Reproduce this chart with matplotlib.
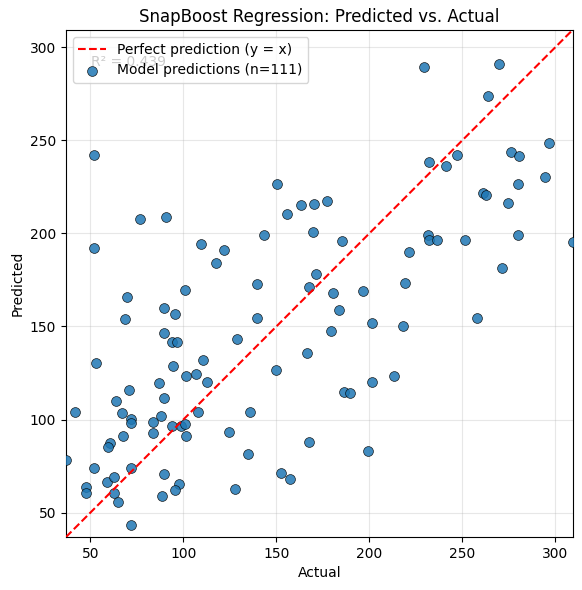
import matplotlib
matplotlib.use("Agg")
import matplotlib.pyplot as plt
import numpy as np

# Data
actual = [51.9, 51.9, 76.5, 90.5, 109.6, 121.6, 117.5, 150.3, 155.9, 163.2,
          170.2, 169.9, 171.5, 139.7, 167.6, 229.6, 269.5, 263.6, 296.3, 276.3,
          280.3, 247.3, 232.3, 241.3, 294.3, 279.7, 261.3, 262.7, 274.3, 177.4,
          185.5, 231.6, 232.3, 236.5, 251.6, 280.1, 309.2, 221.4, 271.5, 219.4,
          100.8, 69.7, 89.5, 68.6, 95.6, 139.7, 89.5, 93.9, 96.7, 128.9,
          166.5, 53.0, 110.6, 94.5, 101.5, 106.9, 149.9, 112.8, 70.8, 87.0,
          89.5, 63.7, 41.7, 67.2, 72.0, 72.0, 88.0, 107.9, 135.9, 83.7,
          93.8, 98.5, 100.9, 83.7, 101.6, 124.6, 67.6, 167.7, 60.5, 59.7,
          36.9, 134.9, 51.9, 71.8, 58.9, 62.8, 89.5, 152.5, 157.3, 47.6,
          47.6, 62.8, 64.8, 97.7, 95.5, 88.7, 127.9, 71.8, 180.6, 196.8,
          183.8, 201.6, 218.2, 257.6, 179.4, 213.5, 201.6, 186.4, 189.8, 199.5,
          143.5]
predicted = [241.9, 192.1, 207.7, 208.6, 194.2, 190.9, 184.0, 226.3, 210.2, 215.2,
             215.6, 200.7, 177.9, 172.6, 171.1, 289.2, 290.8, 273.6, 248.5, 243.7,
             241.4, 242.1, 238.3, 236.0, 230.1, 226.3, 221.7, 220.4, 216.1, 217.2,
             195.9, 199.1, 196.4, 196.4, 196.4, 199.1, 195.2, 189.9, 181.3, 173.1,
             169.7, 165.7, 159.7, 153.8, 156.6, 154.3, 146.4, 141.9, 141.6, 143.2,
             135.6, 130.3, 131.9, 128.5, 123.4, 124.2, 126.5, 119.9, 116.0, 119.4,
             111.4, 109.7, 103.9, 103.4, 100.2, 98.4, 101.7, 103.9, 103.8, 98.9,
             96.4, 96.4, 97.4, 93.0, 91.4, 93.1, 90.9, 88.2, 87.3, 85.1,
             78.5, 81.3, 74.2, 74.2, 66.7, 69.4, 70.5, 71.5, 68.3, 64.0,
             60.8, 60.8, 55.9, 65.6, 62.1, 59.1, 62.5, 43.1, 167.7, 168.9,
             159.0, 151.6, 150.5, 154.8, 147.3, 123.3, 119.9, 115.0, 114.5, 83.3,
             198.9]
r2_value = 0.439
ticks = [50, 100, 150, 200, 250, 300]

actual = np.array(actual)
predicted = np.array(predicted)
lo = min(actual.min(), predicted.min())
hi = max(actual.max(), predicted.max())

fig = plt.figure(figsize=(5.82, 5.90), dpi=100)
ax = fig.add_axes([0.1134, 0.0898, 0.8703, 0.8593])

ax.plot([lo, hi], [lo, hi], 'r--', lw=1.5, label='Perfect prediction (y = x)', zorder=4)
ax.scatter(actual, predicted, s=50, color='#1f77b4', alpha=0.85,
           edgecolors='black', linewidths=0.5,
           label=f'Model predictions (n={len(actual)})', zorder=3)

ax.set_xlim(lo, hi)
ax.set_ylim(lo, hi)
ax.set_xticks(ticks)
ax.set_yticks(ticks)
ax.grid(True, alpha=0.3)
ax.set_axisbelow(True)

ax.text(0.05, 0.95, f'R² = {r2_value:.3f}', transform=ax.transAxes,
        fontsize=10, va='top', ha='left', zorder=2)

ax.set_xlabel('Actual')
ax.set_ylabel('Predicted')
ax.set_title('SnapBoost Regression: Predicted vs. Actual')
leg = ax.legend(loc='upper left')
leg.set_zorder(10)

fig.savefig('out.png', dpi=100)
